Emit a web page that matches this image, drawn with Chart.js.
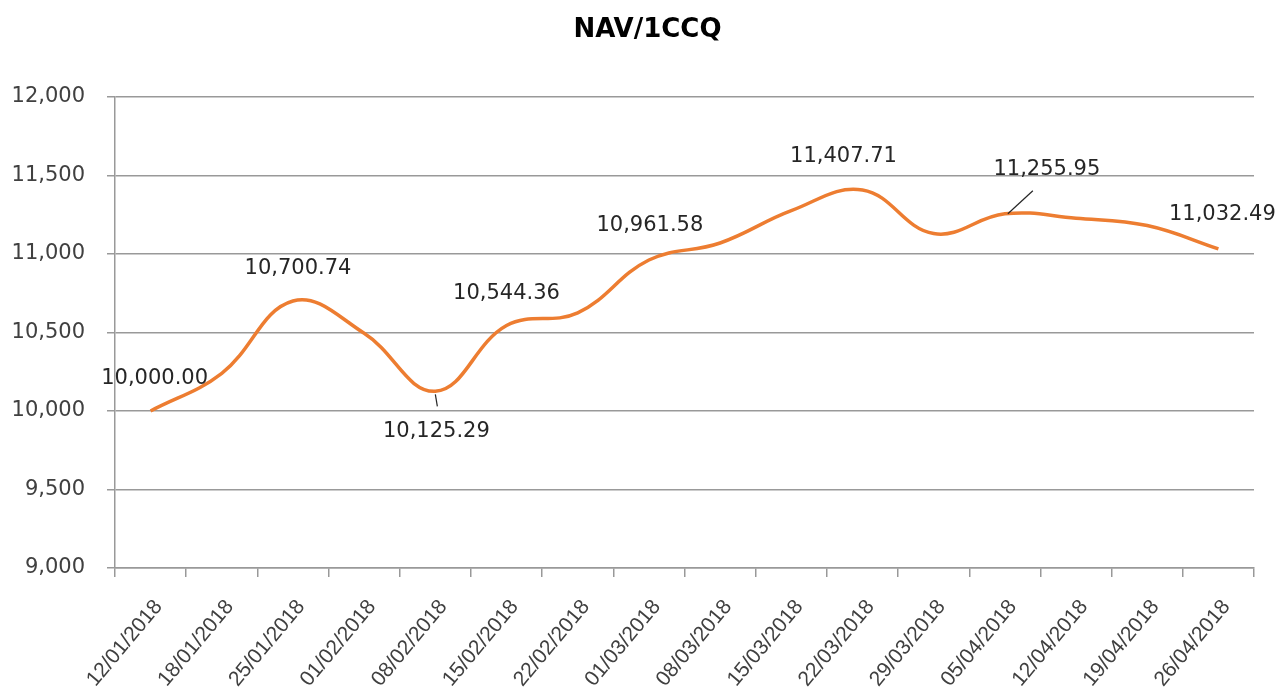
<!DOCTYPE html>
<html>
<head>
<meta charset="utf-8">
<title>NAV/1CCQ</title>
<script src="https://cdn.jsdelivr.net/npm/chart.js@4.4.1/dist/chart.umd.min.js"></script>
<style>
    html, body { margin: 0; padding: 0; background: #fff; }
    #wrap { width: 1287px; height: 700px; }
</style>
</head>
<body>
<div id="wrap"><canvas id="navChart" width="1287" height="700"></canvas></div>
<script>
const dates = [
    '12/01/2018', '18/01/2018', '25/01/2018', '01/02/2018', '08/02/2018', '15/02/2018',
    '22/02/2018', '01/03/2018', '08/03/2018', '15/03/2018', '22/03/2018', '29/03/2018',
    '05/04/2018', '12/04/2018', '19/04/2018', '26/04/2018'
];
const navValues = [
    10000.00, 10240, 10700.74, 10495, 10125.29, 10544.36,
    10625, 10961.58, 11070, 11276, 11407.71, 11130,
    11255.95, 11228, 11181, 11032.49
];
const yMin = 9000;
const yMax = 12000;
const yStep = 500;
const chartTitle = 'NAV/1CCQ';

// which points get a value label, and where it sits relative to the point
const labelPoints = [0, 2, 4, 5, 7, 10, 12, 15];
const labelOffsets = {
    0: [4, -32], 2: [5, -32], 4: [1, 40], 5: [0, -32],
    7: [1, -34], 10: [-19, -33], 12: [42, -44], 15: [4, -34]
};
const leaderLines = {
    4: [[0, 3], [2, 15]],
    12: [[3, 0], [28, -23]]
};

const fmt2 = (v) => v.toLocaleString('en-US', { minimumFractionDigits: 2, maximumFractionDigits: 2 });

// title centred on the whole canvas, not on the padded area
const pageTitle = {
    id: 'pageTitle',
    afterDraw(chart) {
        const ctx = chart.ctx;
        ctx.save();
        ctx.font = 'bold 26px "DejaVu Sans"';
        ctx.fillStyle = '#000';
        ctx.textAlign = 'center';
        ctx.textBaseline = 'middle';
        ctx.fillText(chartTitle, chart.width / 2 + 4, 30);
        ctx.restore();
    }
};

const valueLabels = {
    id: 'valueLabels',
    afterDatasetsDraw(chart) {
        const ctx = chart.ctx;
        const meta = chart.getDatasetMeta(0);
        ctx.save();
        ctx.font = '21px "DejaVu Sans"';
        ctx.fillStyle = '#262626';
        ctx.textAlign = 'center';
        ctx.textBaseline = 'middle';
        labelPoints.forEach((i) => {
            const pt = meta.data[i];
            const off = labelOffsets[i];
            const line = leaderLines[i];
            if (line) {
                ctx.strokeStyle = '#262626';
                ctx.lineWidth = 1.2;
                ctx.beginPath();
                ctx.moveTo(pt.x + line[0][0], pt.y + line[0][1]);
                ctx.lineTo(pt.x + line[1][0], pt.y + line[1][1]);
                ctx.stroke();
            }
            ctx.fillText(fmt2(navValues[i]), pt.x + off[0], pt.y + off[1]);
        });
        ctx.restore();
    }
};

const ctx = document.getElementById('navChart').getContext('2d');
const navChart = new Chart(ctx, {
    type: 'line',
    data: {
        labels: dates,
        datasets: [{
            label: chartTitle,
            data: navValues,
            borderColor: '#ED7D31',
            borderWidth: 3.5,
            pointRadius: 0,
            tension: 0.4,
            fill: false
        }]
    },
    options: {
        responsive: false,
        animation: false,
        layout: {
            padding: { left: 0, right: 33, top: 97, bottom: 0 }
        },
        plugins: {
            legend: { display: false },
            tooltip: { enabled: false },
            title: { display: false }
        },
        scales: {
            x: {
                offset: true,
                grid: {
                    offset: true,
                    drawOnChartArea: false,
                    drawTicks: true,
                    tickLength: 9,
                    color: '#999',
                    lineWidth: 1.5
                },
                border: { color: '#999', width: 1.5 },
                ticks: {
                    color: '#404040',
                    font: { family: 'Liberation Sans', size: 21 },
                    minRotation: 50,
                    maxRotation: 50,
                    autoSkip: false,
                    padding: 18,
                    labelOffset: 8
                },
                afterFit(scale) { scale.height = 132; }
            },
            y: {
                min: yMin,
                max: yMax,
                grid: {
                    color: '#999',
                    lineWidth: 1.5,
                    tickLength: 8
                },
                border: { color: '#999', width: 1.5 },
                ticks: {
                    stepSize: yStep,
                    color: '#404040',
                    font: { family: 'DejaVu Sans', size: 21 },
                    padding: 22,
                    callback: function(value) {
                        return value.toLocaleString('en-US');
                    }
                },
                afterFit(scale) { scale.width = 115; }
            }
        }
    },
    plugins: [valueLabels, pageTitle]
});
</script>
</body>
</html>
